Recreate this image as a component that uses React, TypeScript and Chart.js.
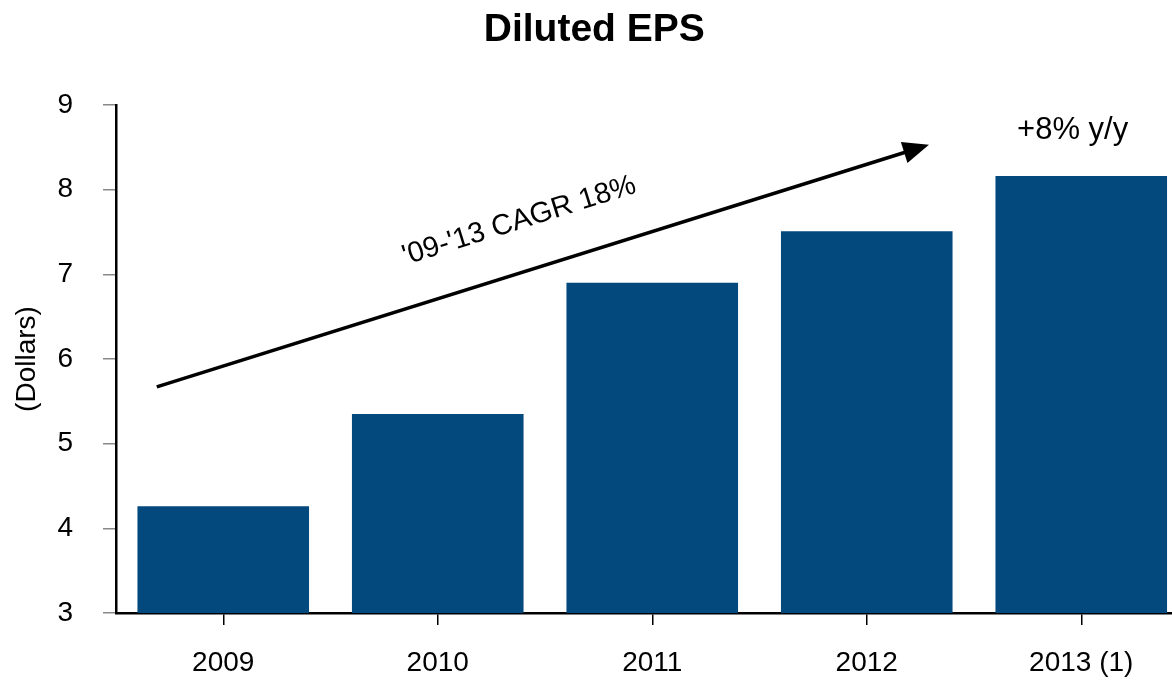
import React, { useEffect, useRef } from "react";
import { Chart, registerables } from "chart.js";

Chart.register(...registerables);

const categories = ["2009", "2010", "2011", "2012", "2013 (1)"];
const epsValues = [4.26, 5.35, 6.9, 7.51, 8.16];
const yMin = 3;
const yMax = 9;
const yStep = 1;
const titleText = "Diluted EPS";
const yAxisTitle = "(Dollars)";
const arrowStart = [-0.31, 5.67];
const arrowEnd = [3.29, 8.53];
const cagrLabel = "'09-'13 CAGR 18%";
const cagrAnchor = [1.38, 7.63];
const yoyLabel = "+8% y/y";
const yoyAnchor = [3.96, 8.7];

const FONT = "'Liberation Sans', Arial, Helvetica, sans-serif";
const BAR_COLOR = "#03497E";

const annotationPlugin = {
  id: "annotations",
  afterDatasetsDraw(chart: any) {
    const { ctx, scales } = chart;
    const x = scales.x;
    const y = scales.y;
    const sx = x.getPixelForValue(arrowStart[0]);
    const sy = y.getPixelForValue(arrowStart[1]);
    const ex = x.getPixelForValue(arrowEnd[0]);
    const ey = y.getPixelForValue(arrowEnd[1]);
    const ang = Math.atan2(ey - sy, ex - sx);
    const headLen = 26;
    const headW = 22;
    const bx = ex - headLen * Math.cos(ang);
    const by = ey - headLen * Math.sin(ang);
    ctx.save();
    ctx.strokeStyle = "#000";
    ctx.fillStyle = "#000";
    ctx.lineWidth = 3.5;
    ctx.beginPath();
    ctx.moveTo(sx, sy);
    ctx.lineTo(bx + 2 * Math.cos(ang), by + 2 * Math.sin(ang));
    ctx.stroke();
    const px = -Math.sin(ang);
    const py = Math.cos(ang);
    ctx.beginPath();
    ctx.moveTo(ex, ey);
    ctx.lineTo(bx + (px * headW) / 2, by + (py * headW) / 2);
    ctx.lineTo(bx - (px * headW) / 2, by - (py * headW) / 2);
    ctx.closePath();
    ctx.fill();

    // CAGR label along arrow
    const cx = x.getPixelForValue(cagrAnchor[0]);
    const cy = y.getPixelForValue(cagrAnchor[1]);
    ctx.translate(cx, cy);
    ctx.rotate(ang);
    ctx.font = `29px ${FONT}`;
    ctx.textAlign = "center";
    ctx.textBaseline = "middle";
    ctx.fillText(cagrLabel, 0, 0);
    ctx.restore();

    ctx.save();
    ctx.font = `31px ${FONT}`;
    ctx.fillStyle = "#000";
    ctx.textAlign = "center";
    ctx.textBaseline = "middle";
    ctx.fillText(yoyLabel, x.getPixelForValue(yoyAnchor[0]), y.getPixelForValue(yoyAnchor[1]));
    ctx.restore();
  },
};

export default function App() {
  const canvasRef = useRef<HTMLCanvasElement | null>(null);

  useEffect(() => {
    if (!canvasRef.current) return;
    const chart = new Chart(canvasRef.current, {
      type: "bar",
      data: {
        labels: categories,
        datasets: [
          {
            label: "Diluted EPS",
            data: epsValues,
            backgroundColor: BAR_COLOR,
            borderWidth: 0,
            barPercentage: 0.8,
            categoryPercentage: 1.0,
          },
        ],
      },
      options: {
        animation: false,
        responsive: false,
        maintainAspectRatio: false,
        layout: { padding: { left: 0, right: 1.5, top: 0, bottom: 0 } },
        plugins: {
          legend: { display: false },
          tooltip: { enabled: false },
          title: {
            display: true,
            text: titleText,
            color: "#000",
            font: { family: FONT, size: 39, weight: "bold", lineHeight: 1.2 },
            padding: { top: 6.6, bottom: 51.6 },
          },
        },
        scales: {
          x: {
            offset: true,
            grid: {
              offset: false,
              drawOnChartArea: false,
              drawTicks: true,
              tickLength: 12,
              color: "#000",
              lineWidth: 1.5,
            },
            border: { display: true, color: "#000", width: 2.5 },
            ticks: {
              color: "#000",
              font: { family: FONT, size: 28 },
              padding: 21,
              maxRotation: 0,
              autoSkip: false,
            },
            afterFit(scale: any) {
              scale.height = 68;
            },
          },
          y: {
            min: yMin,
            max: yMax,
            grid: {
              drawOnChartArea: false,
              drawTicks: true,
              tickLength: 13,
              color: "#888",
              lineWidth: 1.5,
            },
            border: { display: true, color: "#000", width: 2.5 },
            ticks: {
              stepSize: yStep,
              color: "#000",
              font: { family: FONT, size: 28 },
              padding: 30,
            },
            title: {
              display: true,
              text: yAxisTitle,
              color: "#000",
              font: { family: FONT, size: 28, lineHeight: 1.2 },
              padding: { top: 10, bottom: 0 },
            },
            afterFit(scale: any) {
              scale.width = 116;
            },
          },
        },
      },
      plugins: [annotationPlugin],
    });
    return () => chart.destroy();
  }, []);

  return (
    <div
      style={{
        position: "fixed",
        left: 0,
        top: 0,
        width: 1172,
        height: 681,
        overflow: "hidden",
        background: "#fff",
      }}
    >
      <canvas ref={canvasRef} width={1190} height={681} style={{ width: 1190, height: 681, display: "block" }} />
    </div>
  );
}
